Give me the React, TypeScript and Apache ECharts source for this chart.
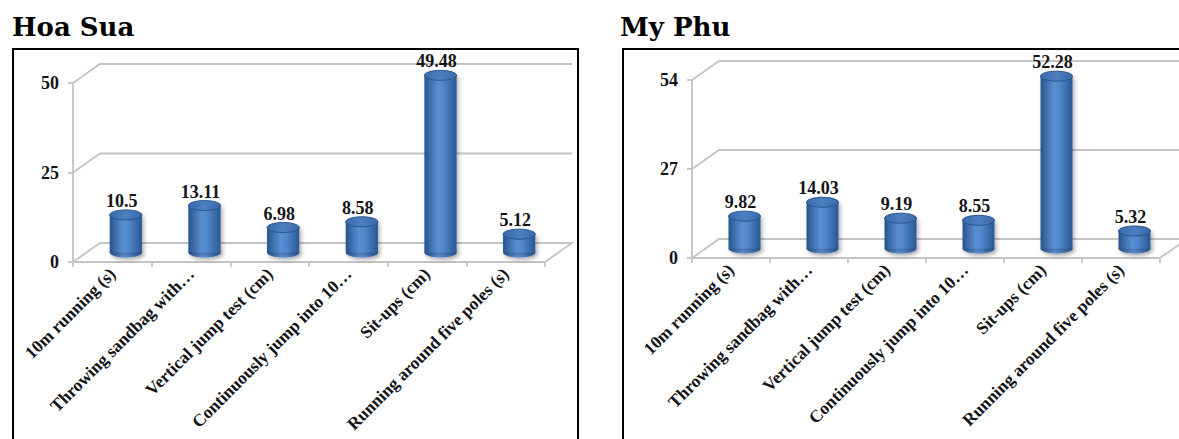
import React, { useEffect, useRef } from "react";
import * as echarts from "echarts";

// Fitness test means for two schools
const categories = [
  "10m running (s)",
  "Throwing sandbag with…",
  "Vertical jump test (cm)",
  "Continuously jump into 10…",
  "Sit-ups (cm)",
  "Running around five poles (s)",
];
const hoaSuaValues = [10.5, 13.11, 6.98, 8.58, 49.48, 5.12];
const myPhuValues = [9.82, 14.03, 9.19, 8.55, 52.28, 5.32];
const hoaSuaTicks = [0, 25, 50];
const myPhuTicks = [0, 27, 54];
const panelTitles = ["Hoa Sua", "My Phu"];

// pseudo-3D depth offset of the back wall
const DX = 27;
const DY = -19;
const GRID_GRAY = "#C4C4C4";
const SERIF = '"Liberation Serif", "Times New Roman", serif';
const TEXT = "#141418";

const wallItem = (params: any, api: any) => {
  const cs = params.coordSys;
  const v = api.value(1);
  const y = api.coord([0, v])[1];
  const x0 = cs.x;
  const x1 = cs.x + cs.width;
  const pts: number[][] = [
    [x0, y],
    [x0 + DX, y + DY],
    [x1 + DX, y + DY],
  ];
  if (v === 0) pts.push([x1, y]);
  return {
    type: "polyline",
    shape: { points: pts },
    style: { stroke: GRID_GRAY, lineWidth: 1.8, fill: "none" },
  };
};

const cylinderItem = (params: any, api: any) => {
  const i = api.value(0);
  const v = api.value(1);
  const base = api.coord([i, 0]);
  const top = api.coord([i, v]);
  const band = api.size([1, 0])[0];
  const w = band * 0.41;
  const rx = w / 2;
  const ry = 5;
  const cx = base[0] + DX / 2;
  const by = base[1] + DY / 2;
  const ty = top[1] + DY / 2;
  const bodyFill = new echarts.graphic.LinearGradient(0, 0, 1, 0, [
    { offset: 0, color: "#28548C" },
    { offset: 0.42, color: "#5A8FD2" },
    { offset: 0.6, color: "#5086C9" },
    { offset: 1, color: "#2A5793" },
  ]);
  const topFill = new echarts.graphic.LinearGradient(0, 0, 1, 0, [
    { offset: 0, color: "#3A69A8" },
    { offset: 0.5, color: "#4C7FC1" },
    { offset: 1, color: "#3A69A8" },
  ]);
  return {
    type: "group",
    children: [
      {
        type: "ellipse",
        shape: { cx, cy: by, rx, ry },
        style: {
          fill: bodyFill,
          shadowBlur: 4,
          shadowColor: "rgba(0,0,0,0.35)",
          shadowOffsetX: 2,
          shadowOffsetY: 2,
        },
      },
      {
        type: "rect",
        shape: { x: cx - rx, y: ty, width: w, height: by - ty },
        style: {
          fill: bodyFill,
          shadowBlur: 4,
          shadowColor: "rgba(0,0,0,0.3)",
          shadowOffsetX: 2,
          shadowOffsetY: 1,
        },
      },
      {
        type: "ellipse",
        shape: { cx, cy: ty, rx, ry },
        style: { fill: topFill, stroke: "#2A568E", lineWidth: 1 },
      },
      {
        type: "text",
        style: {
          text: String(v),
          x: cx - 4,
          y: ty - 14,
          align: "center",
          verticalAlign: "middle",
          fill: TEXT,
          fontSize: 18,
          fontWeight: "bold",
          fontFamily: SERIF,
        },
      },
    ],
  };
};

const axisGray = { color: GRID_GRAY, width: 1.8 };

function panelAxes(idx: number, max: number, interval: number) {
  const xAxis = {
    type: "category",
    gridIndex: idx,
    data: categories,
    boundaryGap: true,
    axisLine: { show: true, lineStyle: axisGray },
    axisTick: { show: true, length: 5, lineStyle: axisGray },
    axisLabel: {
      interval: 0,
      rotate: 45,
      margin: 9,
      color: TEXT,
      fontSize: 17.5,
      fontWeight: "bold",
      fontFamily: SERIF,
    },
    splitLine: { show: false },
  };
  const yAxis = {
    type: "value",
    gridIndex: idx,
    min: 0,
    max,
    interval,
    axisLine: { show: true, lineStyle: axisGray },
    axisTick: { show: true, length: 5, lineStyle: axisGray },
    axisLabel: {
      margin: 14,
      color: TEXT,
      fontSize: 18,
      fontWeight: "bold",
      fontFamily: SERIF,
    },
    splitLine: { show: false },
  };
  return { xAxis, yAxis };
}

export default function App() {
  const ref = useRef<HTMLDivElement>(null);

  useEffect(() => {
    if (!ref.current) return;
    const chart = echarts.init(ref.current, undefined, { renderer: "svg" });
    const a = panelAxes(0, hoaSuaTicks[hoaSuaTicks.length - 1], hoaSuaTicks[1]);
    const b = panelAxes(1, myPhuTicks[myPhuTicks.length - 1], myPhuTicks[1]);

    const titleStyle = {
      fill: "#000",
      fontSize: 26,
      fontWeight: "bold",
      fontFamily: '"DejaVu Serif", serif',
      verticalAlign: "middle",
    };

    chart.setOption({
      animation: false,
      backgroundColor: "#ffffff",
      grid: [
        { left: 73, top: 83, width: 472, height: 179 },
        { left: 692, top: 80, width: 468, height: 178 },
      ],
      xAxis: [a.xAxis, b.xAxis],
      yAxis: [a.yAxis, b.yAxis],
      graphic: [
        {
          type: "rect",
          shape: { x: 13, y: 49, width: 565, height: 420 },
          style: { fill: "none", stroke: "#000", lineWidth: 2 },
          z: 100,
        },
        {
          type: "rect",
          shape: { x: 623, y: 49, width: 620, height: 420 },
          style: { fill: "none", stroke: "#000", lineWidth: 2 },
          z: 100,
        },
        {
          type: "text",
          x: 12,
          y: 27,
          style: { ...titleStyle, text: panelTitles[0] },
        },
        {
          type: "text",
          x: 620,
          y: 27,
          style: { ...titleStyle, text: panelTitles[1] },
        },
      ],
      series: [
        {
          type: "custom",
          xAxisIndex: 0,
          yAxisIndex: 0,
          renderItem: wallItem,
          data: hoaSuaTicks.map((t) => [0, t]),
          encode: { x: 0, y: 1 },
          clip: false,
          z: 1,
          silent: true,
        },
        {
          type: "custom",
          xAxisIndex: 1,
          yAxisIndex: 1,
          renderItem: wallItem,
          data: myPhuTicks.map((t) => [0, t]),
          encode: { x: 0, y: 1 },
          clip: false,
          z: 1,
          silent: true,
        },
        {
          type: "custom",
          xAxisIndex: 0,
          yAxisIndex: 0,
          renderItem: cylinderItem,
          data: hoaSuaValues.map((v, i) => [i, v]),
          encode: { x: 0, y: 1 },
          clip: false,
          z: 3,
        },
        {
          type: "custom",
          xAxisIndex: 1,
          yAxisIndex: 1,
          renderItem: cylinderItem,
          data: myPhuValues.map((v, i) => [i, v]),
          encode: { x: 0, y: 1 },
          clip: false,
          z: 3,
        },
      ],
    });

    return () => chart.dispose();
  }, []);

  return (
    <div
      ref={ref}
      style={{
        position: "absolute",
        left: 0,
        top: 0,
        width: 1179,
        height: 439,
        background: "#fff",
      }}
    />
  );
}
